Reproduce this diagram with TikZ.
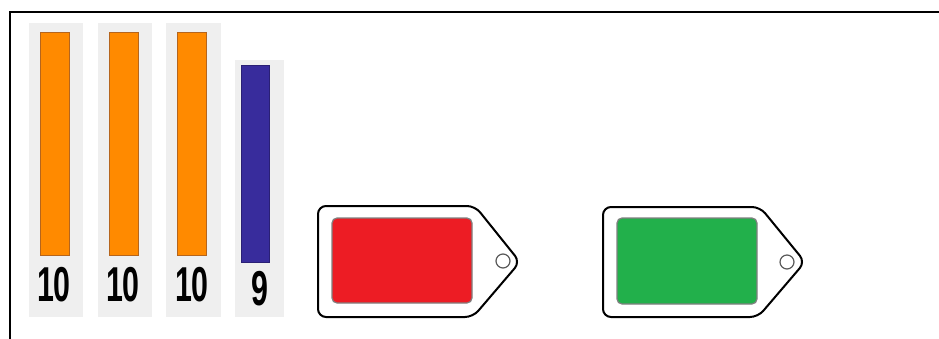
\documentclass[tikz,border=0pt]{standalone}
\usepackage{fontspec}
\setmainfont{Liberation Sans}
\definecolor{panelgray}{HTML}{EFEFEF}
\definecolor{barorange}{HTML}{FF8A00}
\definecolor{barorangeedge}{HTML}{B5651D}
\definecolor{barblue}{HTML}{382C9C}
\definecolor{barblueedge}{HTML}{2A2075}
\definecolor{tagred}{HTML}{ED1C24}
\definecolor{taggreen}{HTML}{22B04B}
\begin{document}
\begin{tikzpicture}[x=1pt,y=-1pt,
  panel/.style={fill=panelgray,draw=none},
  obar/.style={fill=barorange,draw=barorangeedge,line width=0.8pt},
  bbar/.style={fill=barblue,draw=barblueedge,line width=0.8pt},
  num/.style={inner sep=0pt,anchor=base,font=\bfseries\fontsize{49}{49}\selectfont},
  tagouter/.style={draw=black,line width=2pt,fill=white,rounded corners=8pt},
  taginner/.style={draw=gray,line width=1.2pt,rounded corners=5pt},
  hole/.style={draw=gray!70!black,line width=1.2pt,fill=white},
  frame/.style={draw=black,line width=2pt}]
\useasboundingbox (0,0) rectangle (939,338);
% frame (left and top)
\draw[frame] (10,340) -- (10,12) -- (941,12);
% panels
\fill[panel] (29,23) rectangle (83,317);
\fill[panel] (98,23) rectangle (152,317);
\fill[panel] (166,23) rectangle (221,317);
\fill[panel] (235,60) rectangle (284,317);
% bars
\draw[obar] (40,32) rectangle (69,255);
\draw[obar] (109,32) rectangle (138,255);
\draw[obar] (177,32) rectangle (206,255);
\draw[bbar] (241,65) rectangle (269,262);
% numbers
\node[num] (n1) at (54,301) {\scalebox{0.62}[1]{10}};
\node[num] (n2) at (123,301) {\scalebox{0.62}[1]{10}};
\node[num] (n3) at (192,301) {\scalebox{0.62}[1]{10}};
\node[num] (n4) at (260,305) {\scalebox{0.62}[1]{9}};
% red tag
\draw[tagouter] (318,206) -- (475,206) -- (520,262) -- (473,317) -- (318,317) -- cycle;
\draw[taginner,fill=tagred] (332,218) rectangle (472,303);
\draw[hole] (503,261) circle[radius=7];
% green tag
\draw[tagouter] (603,207) -- (760,207) -- (805,262) -- (758,317) -- (603,317) -- cycle;
\draw[taginner,fill=taggreen] (617,218) rectangle (757,304);
\draw[hole] (787,262) circle[radius=7];
\end{tikzpicture}
\end{document}
